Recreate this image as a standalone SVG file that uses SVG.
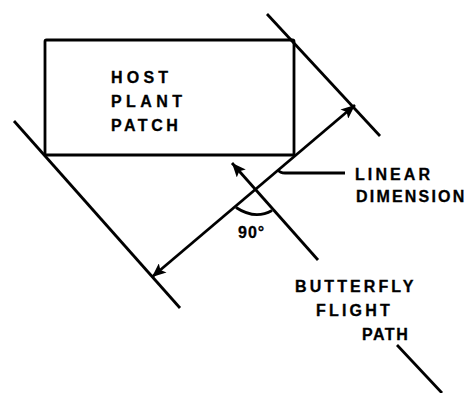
<svg xmlns="http://www.w3.org/2000/svg" width="468" height="393" viewBox="0 0 468 393">
<style>
.ln{stroke:#000;stroke-width:2.8;fill:none;stroke-linecap:butt}
.t{font-family:"Liberation Sans",Arial,sans-serif;font-weight:bold;font-size:16px;fill:#000;stroke:#000;stroke-width:0.3}
</style>
<defs>
<marker id="ah" markerUnits="userSpaceOnUse" markerWidth="16" markerHeight="12" refX="14" refY="6" orient="auto-start-reverse">
<path d="M0,0 L14,6 L0,12 L3,6 z" fill="#000"/>
</marker>
</defs>
<rect width="468" height="393" fill="#fff"/>
<g id="patch">
<rect x="45" y="40" width="249" height="115" class="ln" rx="1.5"/>
<text class="t" x="111" y="83" letter-spacing="4.2">HOST</text>
<text class="t" x="111" y="107" letter-spacing="4.4">PLANT</text>
<text class="t" x="111" y="131" letter-spacing="3.5">PATCH</text>
</g>
<g id="linear-dimension-label">
<text class="t" x="355" y="180" letter-spacing="3.1">LINEAR</text>
<text class="t" x="356" y="202" letter-spacing="2.2">DIMENSION</text>
</g>
<g id="angle-label">
<text class="t" x="238" y="238" letter-spacing="1">90°</text>
</g>
<g id="flight-path-label">
<text class="t" x="295" y="292" letter-spacing="3.1">BUTTERFLY</text>
<text class="t" x="316" y="316" letter-spacing="3.2">FLIGHT</text>
<text class="t" x="362" y="340" letter-spacing="1.5">PATH</text>
</g>
<g id="connectors">
<line class="ln" x1="267" y1="14" x2="380" y2="136"/>
<line class="ln" x1="14" y1="121" x2="180" y2="308"/>
<line class="ln" x1="152" y1="277" x2="355" y2="105" marker-start="url(#ah)" marker-end="url(#ah)"/>
<line class="ln" x1="318" y1="260" x2="232" y2="163" marker-end="url(#ah)"/>
<line class="ln" x1="397" y1="345" x2="442" y2="393"/>
<path class="ln" d="M236,207.5 Q255,220 272,210.5"/>
<path class="ln" d="M278,170 Q280,173 285,173 L345,173"/>
</g>
</svg>
